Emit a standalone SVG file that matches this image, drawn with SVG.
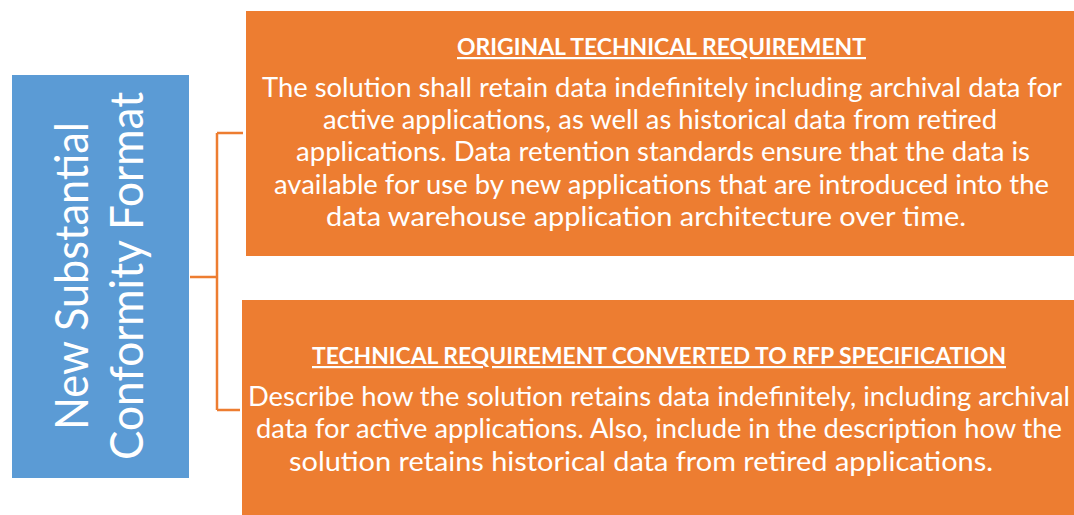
<svg xmlns="http://www.w3.org/2000/svg" width="1074" height="515" viewBox="0 0 1074 515">
<style>
.orange{fill:#ED7D31}
.blue{fill:#5B9BD5}
.t{font-family:Lato,"Open Sans","Liberation Sans",sans-serif;fill:#fff}
.body{font-size:26px}
.title{font-size:22px;font-weight:bold;text-decoration:underline}
.side{font-size:46px}
.conn{fill:none;stroke:#ED7D31;stroke-width:2.5}
</style>
<rect width="1074" height="515" fill="#fff"/>
<g id="connectors">
<path class="conn" d="M190,277 H217 M217,133 V410 M217,133 H243 M217,410 H240"/>
</g>
<g id="node-side">
<rect class="blue" x="12" y="75" width="177" height="403"/>
<text class="t side" transform="translate(88,276) rotate(-90)" text-anchor="middle" textLength="308" lengthAdjust="spacingAndGlyphs">New Substantial</text>
<text class="t side" transform="translate(143,276) rotate(-90)" text-anchor="middle" textLength="368" lengthAdjust="spacingAndGlyphs">Conformity Format</text>
</g>
<g id="node-original">
<rect class="orange" x="246" y="11" width="828" height="245"/>
<text class="t title" x="457" y="55" textLength="409" lengthAdjust="spacingAndGlyphs">ORIGINAL TECHNICAL REQUIREMENT</text>
<text class="t body" x="262" y="97" textLength="800" lengthAdjust="spacingAndGlyphs">The solution shall retain data indefinitely including archival data for</text>
<text class="t body" x="323" y="129" textLength="674" lengthAdjust="spacingAndGlyphs">active applications, as well as historical data from retired</text>
<text class="t body" x="296" y="161" textLength="734" lengthAdjust="spacingAndGlyphs">applications. Data retention standards ensure that the data is</text>
<text class="t body" x="274" y="194" textLength="775" lengthAdjust="spacingAndGlyphs">available for use by new applications that are introduced into the</text>
<text class="t body" x="326" y="226" textLength="640" lengthAdjust="spacingAndGlyphs">data warehouse application architecture over time.</text>
</g>
<g id="node-converted">
<rect class="orange" x="242" y="300" width="832" height="215"/>
<text class="t title" x="312" y="364" textLength="694" lengthAdjust="spacingAndGlyphs">TECHNICAL REQUIREMENT CONVERTED TO RFP SPECIFICATION</text>
<text class="t body" x="248" y="406" textLength="822" lengthAdjust="spacingAndGlyphs">Describe how the solution retains data indefinitely, including archival</text>
<text class="t body" x="256" y="438" textLength="806" lengthAdjust="spacingAndGlyphs">data for active applications. Also, include in the description how the</text>
<text class="t body" x="289" y="471" textLength="704" lengthAdjust="spacingAndGlyphs">solution retains historical data from retired applications.</text>
</g>
</svg>
